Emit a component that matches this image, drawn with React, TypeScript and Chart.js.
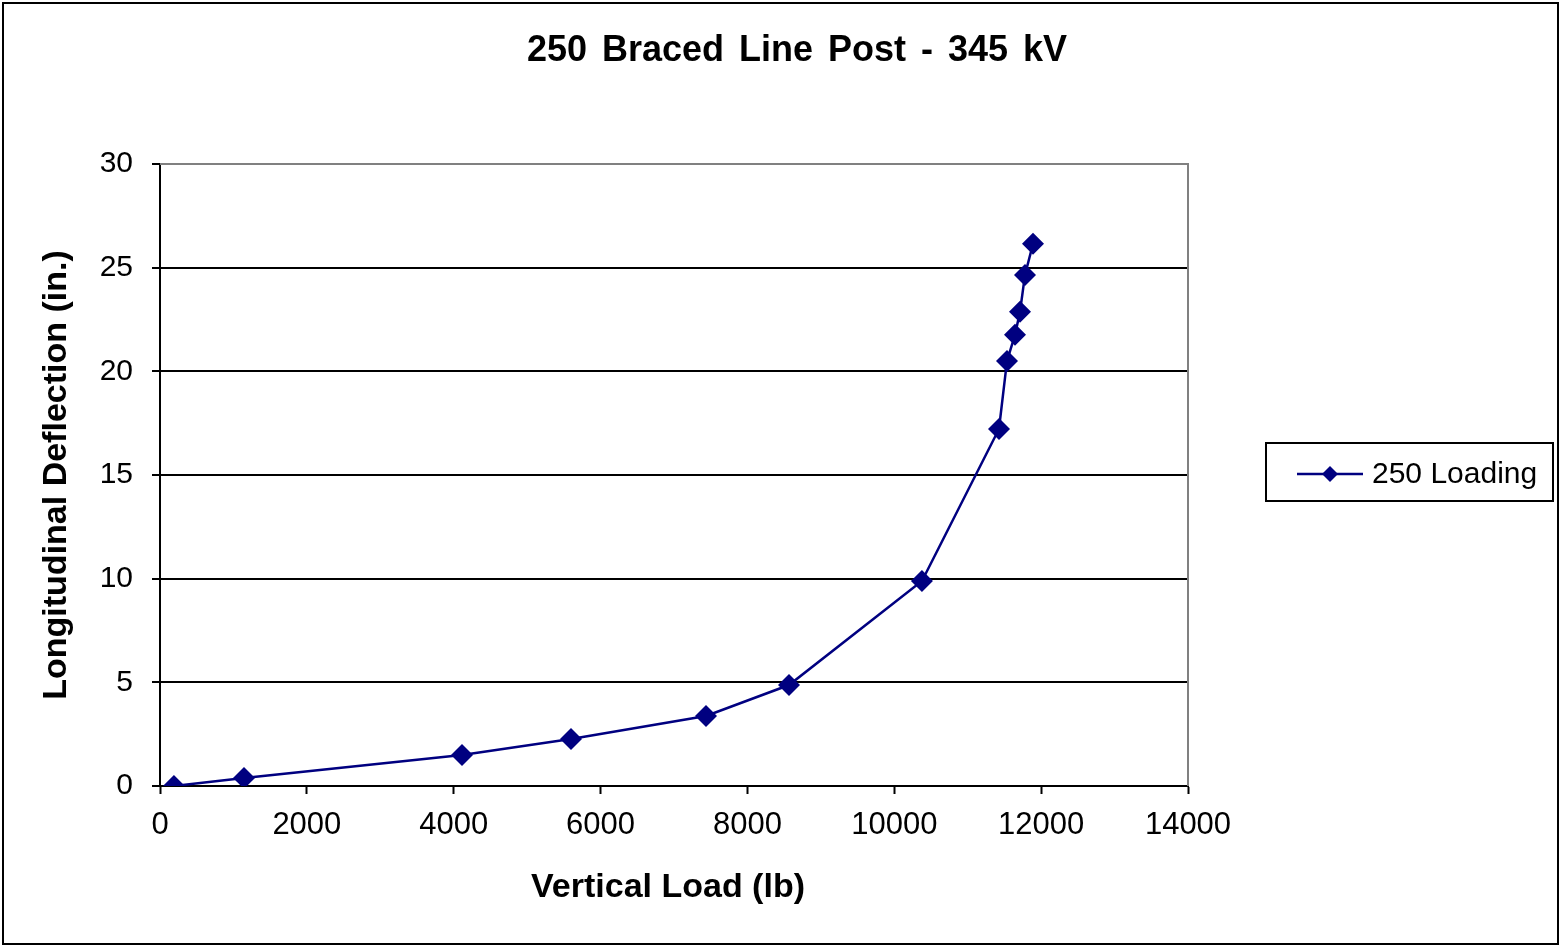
import React, { useEffect, useRef } from "react";
import { Chart, registerables } from "chart.js";

Chart.register(...registerables);

const loadLb = [190, 1144, 4113, 5597, 7436, 8566, 10377, 11426, 11535, 11644, 11712, 11780, 11889];
const deflectionIn = [0, 0.39, 1.5, 2.27, 3.38, 4.87, 9.89, 17.22, 20.5, 21.76, 22.87, 24.65, 26.15];
const seriesName = "250 Loading";
const chartTitle = "250 Braced Line Post - 345 kV";
const xTitle = "Vertical Load (lb)";
const yTitle = "Longitudinal Deflection (in.)";

const NAVY = "#000080";
const FONT = "'Liberation Sans', Arial, sans-serif";

export default function App() {
  const ref = useRef<HTMLCanvasElement | null>(null);

  useEffect(() => {
    document.body.style.margin = "0";
    const canvas = ref.current!;
    const deco = {
      id: "deco",
      afterDraw(chart: any) {
        const ctx = chart.ctx;
        const a = chart.chartArea;
        ctx.save();
        // outer border
        ctx.strokeStyle = "#000";
        ctx.lineWidth = 2;
        ctx.strokeRect(3, 3, 1555, 941);
        // plot border top/right gray
        ctx.strokeStyle = "#808080";
        ctx.lineWidth = 2;
        ctx.beginPath();
        ctx.moveTo(a.left, a.top);
        ctx.lineTo(a.right, a.top);
        ctx.lineTo(a.right, a.bottom);
        ctx.stroke();
        // title
        ctx.fillStyle = "#000";
        ctx.font = `bold 36px ${FONT}`;
        ctx.textAlign = "center";
        ctx.textBaseline = "middle";
        try { (ctx as any).wordSpacing = "5px"; } catch (e) {}
        ctx.fillText(chartTitle, 797, 51);
        try { (ctx as any).wordSpacing = "0px"; } catch (e) {}
        // x title
        ctx.font = `bold 34px ${FONT}`;
        ctx.fillText(xTitle, 668, 888);
        // y title
        ctx.save();
        ctx.translate(57, (a.top + a.bottom) / 2);
        ctx.rotate(-Math.PI / 2);
        ctx.fillText(yTitle, 0, 0);
        ctx.restore();
        // legend
        ctx.strokeStyle = "#000";
        ctx.lineWidth = 2;
        ctx.strokeRect(1266, 443, 287, 58);
        ctx.strokeStyle = NAVY;
        ctx.lineWidth = 2.5;
        ctx.beginPath();
        ctx.moveTo(1297, 474);
        ctx.lineTo(1363, 474);
        ctx.stroke();
        ctx.fillStyle = NAVY;
        ctx.beginPath();
        ctx.moveTo(1330, 466);
        ctx.lineTo(1338, 474);
        ctx.lineTo(1330, 482);
        ctx.lineTo(1322, 474);
        ctx.closePath();
        ctx.fill();
        ctx.fillStyle = "#000";
        ctx.font = `30px ${FONT}`;
        ctx.textAlign = "left";
        ctx.fillText(seriesName, 1372, 475);
        ctx.restore();
      },
    };

    const chart = new Chart(canvas, {
      type: "scatter",
      data: {
        datasets: [
          {
            label: seriesName,
            data: loadLb.map((x, i) => ({ x, y: deflectionIn[i] })),
            showLine: true,
            borderColor: NAVY,
            backgroundColor: NAVY,
            borderWidth: 2.5,
            pointStyle: "rectRot",
            pointRadius: 11,
            pointHoverRadius: 11,
            pointBorderWidth: 0,
          },
        ],
      },
      options: {
        animation: false,
        responsive: false,
        maintainAspectRatio: false,
        events: [],
        layout: { padding: { top: 164, right: 374, left: 0, bottom: 0 } },
        plugins: { legend: { display: false }, title: { display: false }, tooltip: { enabled: false } },
        scales: {
          x: {
            type: "linear",
            min: 0,
            max: 14000,
            afterFit: (s: any) => { s.height = 948 - 786; },
            ticks: {
              stepSize: 2000,
              color: "#000",
              font: { family: FONT, size: 31 },
              padding: 13,
              maxRotation: 0,
              callback: (v: any) => String(v),
            },
            grid: { drawOnChartArea: false, drawTicks: true, tickLength: 8, tickColor: "#000", tickWidth: 2 },
            border: { color: "#000", width: 2 },
          },
          y: {
            type: "linear",
            min: 0,
            max: 30,
            afterFit: (s: any) => { s.width = 160; },
            ticks: {
              stepSize: 5,
              color: "#000",
              font: { family: FONT, size: 30 },
              padding: 19,
              callback: (v: any) => String(v),
            },
            grid: {
              color: (c: any) => (c.tick && c.tick.value === 30 ? "rgba(0,0,0,0)" : "#000"),
              lineWidth: 2,
              drawTicks: true,
              tickLength: 8,
              tickColor: "#000",
              tickWidth: 2,
            },
            border: { color: "#000", width: 2 },
          },
        },
      },
      plugins: [deco],
    });
    return () => chart.destroy();
  }, []);

  return (
    <div style={{ width: 1562, height: 948, background: "#fff" }}>
      <canvas ref={ref} width={1562} height={948} style={{ display: "block" }} />
    </div>
  );
}
